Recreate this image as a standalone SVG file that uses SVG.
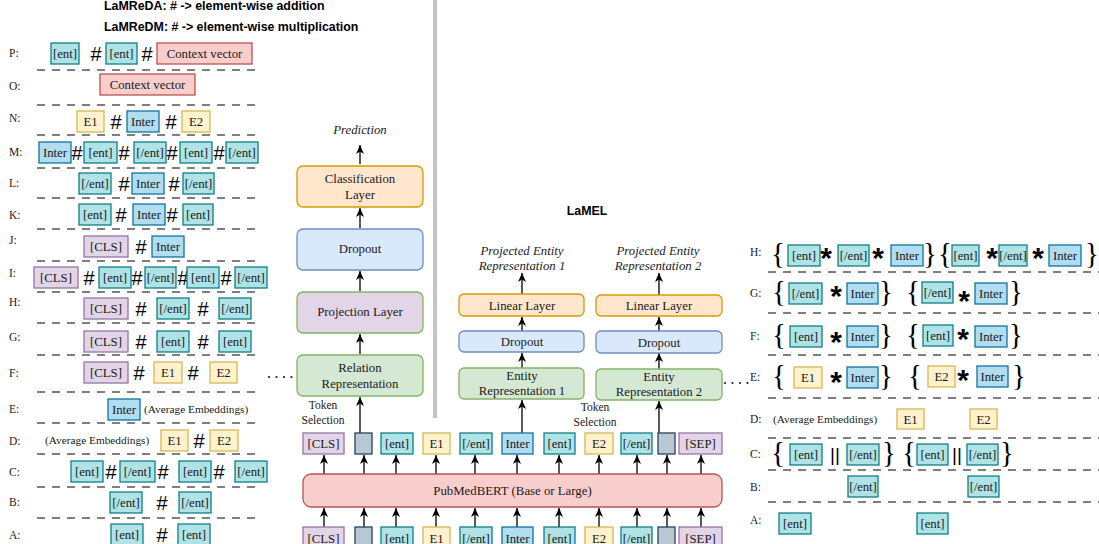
<svg xmlns="http://www.w3.org/2000/svg" width="1099" height="544" viewBox="0 0 1099 544">
<style>
rect{stroke-width:1.3}
.ent{fill:#b0e3e6;stroke:#0e8088}
.int{fill:#b1ddf0;stroke:#10739e}
.e{fill:#fff2cc;stroke:#d6b656}
.cls{fill:#e1d5e7;stroke:#9673a6}
.ctx{fill:#f8cecc;stroke:#b85450}
.gry{fill:#bac8d3;stroke:#23445d}
.org{fill:#ffe6cc;stroke:#d79b00}
.blu{fill:#dae8fc;stroke:#6c8ebf}
.pur{fill:#e1d5e7;stroke:#82b366}
.grn{fill:#d5e8d4;stroke:#82b366}
.t{font-family:"Liberation Serif",serif;font-size:12.8px;fill:#1a1a1a;text-anchor:middle}
.ti{font-family:"Liberation Serif",serif;font-size:12.8px;font-style:italic;fill:#1a1a1a;text-anchor:middle}
.s{font-family:"Liberation Serif",serif;font-size:11.5px;fill:#1a1a1a;text-anchor:middle}
.avg{font-family:"Liberation Serif",serif;font-size:11.3px;fill:#1a1a1a}
.h{font-family:"Liberation Sans",sans-serif;font-size:20px;fill:#000;text-anchor:middle}
.st{font-family:"Liberation Sans",sans-serif;font-size:30px;font-weight:bold;fill:#000;text-anchor:middle}
.br{font-family:"Liberation Serif",serif;font-size:29px;fill:#000;text-anchor:middle}
.bar{font-family:"Liberation Sans",sans-serif;font-size:19px;fill:#000;text-anchor:middle}
.lbl{font-family:"Liberation Serif",serif;font-size:11.5px;fill:#1a1a1a}
.hd{font-family:"Liberation Sans",sans-serif;font-size:12.4px;font-weight:bold;fill:#000}
.dash{stroke:#555;stroke-width:1.4;stroke-dasharray:8 7;fill:none}
.arr{stroke:#222;stroke-width:1.5;fill:none;marker-end:url(#ah)}
.dots{stroke:#222;stroke-width:2.2;stroke-linecap:round;stroke-dasharray:0 7.5;fill:none}
</style>
<defs>
<marker id="ah" markerUnits="userSpaceOnUse" markerWidth="10" markerHeight="10" refX="9" refY="4" orient="auto">
<path d="M0,0 L9,4 L0,8 L2.5,4 Z" fill="#000"/>
</marker>
</defs>
<rect width="1099" height="544" fill="#fff"/>
<rect x="433" y="0" width="4" height="418" fill="#c4c4c4"/>
<g id="header">
<text class="hd" x="104" y="10">LaMReDA: # -&gt; element-wise addition</text>
<text class="hd" x="104" y="31">LaMReDM: # -&gt; element-wise multiplication</text>
</g>
<g id="left-separators">
<line class="dash" x1="37" y1="70" x2="262" y2="70"/>
<line class="dash" x1="37" y1="105" x2="262" y2="105"/>
<line class="dash" x1="37" y1="135" x2="262" y2="135"/>
<line class="dash" x1="37" y1="168" x2="262" y2="168"/>
<line class="dash" x1="37" y1="198" x2="262" y2="198"/>
<line class="dash" x1="37" y1="229" x2="262" y2="229"/>
<line class="dash" x1="37" y1="261" x2="262" y2="261"/>
<line class="dash" x1="37" y1="292" x2="262" y2="292"/>
<line class="dash" x1="37" y1="323" x2="262" y2="323"/>
<line class="dash" x1="37" y1="355" x2="262" y2="355"/>
<line class="dash" x1="37" y1="392" x2="262" y2="392"/>
<line class="dash" x1="37" y1="423" x2="262" y2="423"/>
<line class="dash" x1="37" y1="454" x2="262" y2="454"/>
<line class="dash" x1="37" y1="487" x2="262" y2="487"/>
<line class="dash" x1="37" y1="518" x2="262" y2="518"/>
</g>
<g id="row-P">
<text class="lbl" x="9" y="57">P:</text>
<rect class="ent" x="51" y="43" width="28" height="21"/><text class="t" x="65" y="58">[ent]</text>
<text class="h" x="96" y="60.5">#</text>
<rect class="ent" x="106" y="43" width="31" height="21"/><text class="t" x="121.5" y="58">[ent]</text>
<text class="h" x="147" y="60.5">#</text>
<rect class="ctx" x="157" y="43" width="95" height="21"/><text class="t" x="204.5" y="58">Context vector</text>
</g>
<g id="row-O">
<text class="lbl" x="9" y="90">O:</text>
<rect class="ctx" x="100" y="74" width="95" height="21"/><text class="t" x="147.5" y="89">Context vector</text>
</g>
<g id="row-N">
<text class="lbl" x="9" y="122">N:</text>
<rect class="e" x="77" y="111" width="27" height="21"/><text class="t" x="90.5" y="126">E1</text>
<text class="h" x="116" y="128.5">#</text>
<rect class="int" x="127" y="111" width="32" height="21"/><text class="t" x="143" y="126">Inter</text>
<text class="h" x="171" y="128.5">#</text>
<rect class="e" x="182" y="111" width="28" height="21"/><text class="t" x="196" y="126">E2</text>
</g>
<g id="row-M">
<text class="lbl" x="9" y="156">M:</text>
<rect class="int" x="39" y="142" width="32" height="21"/><text class="t" x="55" y="157">Inter</text>
<text class="h" x="77" y="159.5">#</text>
<rect class="ent" x="84" y="142" width="33" height="21"/><text class="t" x="100.5" y="157">[ent]</text>
<text class="h" x="124" y="159.5">#</text>
<rect class="ent" x="134" y="142" width="32" height="21"/><text class="t" x="150" y="157">[/ent]</text>
<text class="h" x="172" y="159.5">#</text>
<rect class="ent" x="180" y="142" width="32" height="21"/><text class="t" x="196" y="157">[ent]</text>
<text class="h" x="219" y="159.5">#</text>
<rect class="ent" x="226" y="142" width="32" height="21"/><text class="t" x="242" y="157">[/ent]</text>
</g>
<g id="row-L">
<text class="lbl" x="9" y="187">L:</text>
<rect class="ent" x="79" y="173" width="32" height="21"/><text class="t" x="95" y="188">[/ent]</text>
<text class="h" x="124" y="190.5">#</text>
<rect class="int" x="132" y="173" width="32" height="21"/><text class="t" x="148" y="188">Inter</text>
<text class="h" x="174" y="190.5">#</text>
<rect class="ent" x="183" y="173" width="31" height="21"/><text class="t" x="198.5" y="188">[/ent]</text>
</g>
<g id="row-K">
<text class="lbl" x="9" y="219">K:</text>
<rect class="ent" x="79" y="204" width="32" height="21"/><text class="t" x="95" y="219">[ent]</text>
<text class="h" x="121" y="221.5">#</text>
<rect class="int" x="133" y="204" width="32" height="21"/><text class="t" x="149" y="219">Inter</text>
<text class="h" x="172" y="221.5">#</text>
<rect class="ent" x="183" y="204" width="30" height="21"/><text class="t" x="198" y="219">[ent]</text>
</g>
<g id="row-J">
<text class="lbl" x="9" y="244">J:</text>
<rect class="cls" x="84" y="236" width="44" height="21"/><text class="t" x="106" y="251">[CLS]</text>
<text class="h" x="141" y="253.5">#</text>
<rect class="int" x="152" y="236" width="32" height="21"/><text class="t" x="168" y="251">Inter</text>
</g>
<g id="row-I">
<text class="lbl" x="9" y="277">I:</text>
<rect class="cls" x="34" y="267" width="44" height="21"/><text class="t" x="56" y="282">[CLS]</text>
<text class="h" x="89" y="284.5">#</text>
<rect class="ent" x="99" y="267" width="32" height="21"/><text class="t" x="115" y="282">[ent]</text>
<text class="h" x="137" y="284.5">#</text>
<rect class="ent" x="145" y="267" width="31" height="21"/><text class="t" x="160.5" y="282">[/ent]</text>
<text class="h" x="183" y="284.5">#</text>
<rect class="ent" x="187" y="267" width="32" height="21"/><text class="t" x="203" y="282">[ent]</text>
<text class="h" x="226" y="284.5">#</text>
<rect class="ent" x="235" y="267" width="32" height="21"/><text class="t" x="251" y="282">[/ent]</text>
</g>
<g id="row-H">
<text class="lbl" x="9" y="306">H:</text>
<rect class="cls" x="84" y="298" width="44" height="21"/><text class="t" x="106" y="313">[CLS]</text>
<text class="h" x="141" y="315.5">#</text>
<rect class="ent" x="157" y="298" width="32" height="21"/><text class="t" x="173" y="313">[/ent]</text>
<text class="h" x="203" y="315.5">#</text>
<rect class="ent" x="219" y="298" width="32" height="21"/><text class="t" x="235" y="313">[/ent]</text>
</g>
<g id="row-G">
<text class="lbl" x="9" y="341">G:</text>
<rect class="cls" x="84" y="331" width="44" height="21"/><text class="t" x="106" y="346">[CLS]</text>
<text class="h" x="141" y="348.5">#</text>
<rect class="ent" x="157" y="331" width="32" height="21"/><text class="t" x="173" y="346">[ent]</text>
<text class="h" x="203" y="348.5">#</text>
<rect class="ent" x="219" y="331" width="32" height="21"/><text class="t" x="235" y="346">[ent]</text>
</g>
<g id="row-F">
<text class="lbl" x="9" y="377">F:</text>
<rect class="cls" x="84" y="362" width="44" height="21"/><text class="t" x="106" y="377">[CLS]</text>
<text class="h" x="139" y="379.5">#</text>
<rect class="e" x="154" y="362" width="28" height="21"/><text class="t" x="168" y="377">E1</text>
<text class="h" x="193" y="379.5">#</text>
<rect class="e" x="210" y="362" width="27" height="21"/><text class="t" x="223.5" y="377">E2</text>
</g>
<g id="row-E">
<text class="lbl" x="9" y="413">E:</text>
<rect class="int" x="108" y="399" width="32" height="21"/><text class="t" x="124" y="414">Inter</text>
<text class="avg" x="144" y="413">(Average Embeddings)</text>
</g>
<g id="row-D">
<text class="lbl" x="9" y="445">D:</text>
<text class="avg" x="45" y="444">(Average Embeddings)</text>
<rect class="e" x="161" y="430" width="27" height="21"/><text class="t" x="174.5" y="445">E1</text>
<text class="h" x="199" y="447.5">#</text>
<rect class="e" x="210" y="430" width="28" height="21"/><text class="t" x="224" y="445">E2</text>
</g>
<g id="row-C">
<text class="lbl" x="9" y="476">C:</text>
<rect class="ent" x="71" y="461" width="32" height="21"/><text class="t" x="87" y="476">[ent]</text>
<text class="h" x="111" y="478.5">#</text>
<rect class="ent" x="120" y="461" width="35" height="21"/><text class="t" x="137.5" y="476">[/ent]</text>
<text class="h" x="163" y="478.5">#</text>
<rect class="ent" x="179" y="461" width="32" height="21"/><text class="t" x="195" y="476">[ent]</text>
<text class="h" x="219" y="478.5">#</text>
<rect class="ent" x="235" y="461" width="32" height="21"/><text class="t" x="251" y="476">[/ent]</text>
</g>
<g id="row-B">
<text class="lbl" x="9" y="506">B:</text>
<rect class="ent" x="110" y="492" width="32" height="21"/><text class="t" x="126" y="507">[/ent]</text>
<text class="h" x="162" y="509.5">#</text>
<rect class="ent" x="179" y="492" width="32" height="21"/><text class="t" x="195" y="507">[/ent]</text>
</g>
<g id="row-A">
<text class="lbl" x="9" y="539">A:</text>
<rect class="ent" x="111" y="524" width="32" height="21"/><text class="t" x="127" y="539">[ent]</text>
<text class="h" x="162" y="541.5">#</text>
<rect class="ent" x="178" y="524" width="32" height="21"/><text class="t" x="194" y="539">[ent]</text>
</g>

<g id="connectors">
<line class="arr" x1="360" y1="164" x2="360" y2="145"/>
<line class="arr" x1="360" y1="228" x2="360" y2="208"/>
<line class="arr" x1="360" y1="291" x2="360" y2="271"/>
<line class="arr" x1="360" y1="354" x2="360" y2="334"/>
<line class="arr" x1="360" y1="433" x2="360" y2="397"/>
<line class="arr" x1="522" y1="294" x2="522" y2="273"/>
<line class="arr" x1="522" y1="331" x2="522" y2="317"/>
<line class="arr" x1="522" y1="368" x2="522" y2="353"/>
<line class="arr" x1="522" y1="433" x2="522" y2="400"/>
<line class="arr" x1="659" y1="295" x2="659" y2="273"/>
<line class="arr" x1="659" y1="331" x2="659" y2="317"/>
<line class="arr" x1="659" y1="369" x2="659" y2="353"/>
<line class="arr" x1="659" y1="433" x2="659" y2="401"/>
<line class="arr" x1="324" y1="474" x2="324" y2="455"/>
<line class="arr" x1="364" y1="474" x2="364" y2="455"/>
<line class="arr" x1="396" y1="474" x2="396" y2="455"/>
<line class="arr" x1="436" y1="474" x2="436" y2="455"/>
<line class="arr" x1="475" y1="474" x2="475" y2="455"/>
<line class="arr" x1="517" y1="474" x2="517" y2="455"/>
<line class="arr" x1="559" y1="474" x2="559" y2="455"/>
<line class="arr" x1="599" y1="474" x2="599" y2="455"/>
<line class="arr" x1="637" y1="474" x2="637" y2="455"/>
<line class="arr" x1="667" y1="474" x2="667" y2="455"/>
<line class="arr" x1="701" y1="474" x2="701" y2="455"/>
<line class="arr" x1="324" y1="527" x2="324" y2="508"/>
<line class="arr" x1="364" y1="527" x2="364" y2="508"/>
<line class="arr" x1="396" y1="527" x2="396" y2="508"/>
<line class="arr" x1="436" y1="527" x2="436" y2="508"/>
<line class="arr" x1="475" y1="527" x2="475" y2="508"/>
<line class="arr" x1="517" y1="527" x2="517" y2="508"/>
<line class="arr" x1="559" y1="527" x2="559" y2="508"/>
<line class="arr" x1="599" y1="527" x2="599" y2="508"/>
<line class="arr" x1="637" y1="527" x2="637" y2="508"/>
<line class="arr" x1="667" y1="527" x2="667" y2="508"/>
<line class="arr" x1="701" y1="527" x2="701" y2="508"/>
<line class="dots" x1="269" y1="377" x2="294" y2="377"/>
<line class="dots" x1="725" y1="383" x2="748" y2="383"/>
</g>

<g id="lamred-stack">
<text class="ti" x="360" y="134">Prediction</text>
<g id="classification-layer"><rect class="org" x="297" y="166" width="126" height="41" rx="6"/><text class="t" x="360" y="183">Classification</text><text class="t" x="360" y="199">Layer</text></g>
<g id="dropout-main"><rect class="blu" x="297" y="229" width="126" height="41" rx="6"/><text class="t" x="360" y="253">Dropout</text></g>
<g id="projection-layer"><rect class="pur" x="297" y="292" width="126" height="41" rx="6"/><text class="t" x="360" y="316">Projection Layer</text></g>
<g id="relation-representation"><rect class="grn" x="297" y="355" width="126" height="41" rx="6"/><text class="t" x="360" y="372">Relation</text><text class="t" x="360" y="388">Representation</text></g>
<text class="s" x="323" y="409">Token</text>
<text class="s" x="323" y="424">Selection</text>
</g>

<g id="lamel">
<text class="hd" x="587" y="215" text-anchor="middle">LaMEL</text>
<text class="ti" x="522" y="255">Projected Entity</text>
<text class="ti" x="522" y="270">Representation 1</text>
<text class="ti" x="658" y="255">Projected Entity</text>
<text class="ti" x="658" y="270">Representation 2</text>
<g id="linear-layer-1"><rect class="org" x="459" y="294" width="125" height="22" rx="5"/><text class="t" x="522" y="309.5">Linear Layer</text></g>
<g id="dropout-1"><rect class="blu" x="459" y="331" width="125" height="21" rx="5"/><text class="t" x="522" y="346">Dropout</text></g>
<g id="entity-rep-1"><rect class="grn" x="459" y="368" width="125" height="31" rx="5"/><text class="t" x="522" y="380">Entity</text><text class="t" x="522" y="395">Representation 1</text></g>
<g id="linear-layer-2"><rect class="org" x="596" y="295" width="126" height="21" rx="5"/><text class="t" x="659" y="310">Linear Layer</text></g>
<g id="dropout-2"><rect class="blu" x="596" y="331" width="126" height="22" rx="5"/><text class="t" x="659" y="346.5">Dropout</text></g>
<g id="entity-rep-2"><rect class="grn" x="596" y="369" width="126" height="31" rx="5"/><text class="t" x="659" y="381">Entity</text><text class="t" x="659" y="396">Representation 2</text></g>
<text class="s" x="595" y="411">Token</text>
<text class="s" x="595" y="426">Selection</text>
</g>

<g id="output-tokens">
<rect class="cls" x="303" y="433" width="41" height="21"/><text class="t" x="323.5" y="448">[CLS]</text>
<rect class="gry" x="355" y="433" width="17" height="21"/>
<rect class="ent" x="381" y="433" width="32" height="21"/><text class="t" x="397" y="448">[ent]</text>
<rect class="e" x="423" y="433" width="27" height="21"/><text class="t" x="436.5" y="448">E1</text>
<rect class="ent" x="460" y="433" width="32" height="21"/><text class="t" x="476" y="448">[/ent]</text>
<rect class="int" x="502" y="433" width="31" height="21"/><text class="t" x="517.5" y="448">Inter</text>
<rect class="ent" x="544" y="433" width="31" height="21"/><text class="t" x="559.5" y="448">[ent]</text>
<rect class="e" x="585" y="433" width="28" height="21"/><text class="t" x="599" y="448">E2</text>
<rect class="ent" x="621" y="433" width="31" height="21"/><text class="t" x="636.5" y="448">[/ent]</text>
<rect class="gry" x="658" y="433" width="17" height="21"/>
<rect class="cls" x="679" y="433" width="43" height="21"/><text class="t" x="700.5" y="448">[SEP]</text>
</g>
<g id="pubmedbert">
<rect class="ctx" x="303" y="474" width="419" height="33" rx="8"/>
<text class="t" x="512.5" y="495">PubMedBERT (Base or Large)</text>
</g>
<g id="input-tokens">
<rect class="cls" x="303" y="527" width="41" height="22"/><text class="t" x="323.5" y="542.5">[CLS]</text>
<rect class="gry" x="355" y="527" width="17" height="22"/>
<rect class="ent" x="381" y="527" width="32" height="22"/><text class="t" x="397" y="542.5">[ent]</text>
<rect class="e" x="423" y="527" width="27" height="22"/><text class="t" x="436.5" y="542.5">E1</text>
<rect class="ent" x="460" y="527" width="32" height="22"/><text class="t" x="476" y="542.5">[/ent]</text>
<rect class="int" x="502" y="527" width="31" height="22"/><text class="t" x="517.5" y="542.5">Inter</text>
<rect class="ent" x="544" y="527" width="31" height="22"/><text class="t" x="559.5" y="542.5">[ent]</text>
<rect class="e" x="585" y="527" width="28" height="22"/><text class="t" x="599" y="542.5">E2</text>
<rect class="ent" x="621" y="527" width="31" height="22"/><text class="t" x="636.5" y="542.5">[/ent]</text>
<rect class="gry" x="658" y="527" width="17" height="22"/>
<rect class="cls" x="679" y="527" width="43" height="22"/><text class="t" x="700.5" y="542.5">[SEP]</text>
</g>

<g id="right-separators">
<line class="dash" x1="768" y1="272" x2="1099" y2="272"/>
<line class="dash" x1="768" y1="313" x2="1099" y2="313"/>
<line class="dash" x1="768" y1="355" x2="1099" y2="355"/>
<line class="dash" x1="768" y1="398" x2="1099" y2="398"/>
<line class="dash" x1="768" y1="438" x2="1099" y2="438"/>
<line class="dash" x1="768" y1="470" x2="1099" y2="470"/>
<line class="dash" x1="768" y1="502" x2="1099" y2="502"/>
</g>
<g id="rrow-H">
<text class="lbl" x="750" y="256">H:</text>
<text class="br" x="778" y="263">{</text>
<rect class="ent" x="788" y="245" width="32" height="21"/><text class="t" x="804" y="260">[ent]</text>
<text class="st" x="826" y="268">*</text>
<rect class="ent" x="838" y="245" width="31" height="21"/><text class="t" x="853.5" y="260">[/ent]</text>
<text class="st" x="878" y="268">*</text>
<rect class="int" x="891" y="245" width="32" height="21"/><text class="t" x="907" y="260">Inter</text>
<text class="br" x="930" y="263">}</text>
<text class="br" x="945" y="263">{</text>
<rect class="ent" x="952" y="245" width="27" height="21"/><text class="t" x="965.5" y="260">[ent]</text>
<text class="st" x="992" y="268">*</text>
<rect class="ent" x="999" y="245" width="28" height="21"/><text class="t" x="1013" y="260">[/ent]</text>
<text class="st" x="1038" y="268">*</text>
<rect class="int" x="1049" y="245" width="32" height="21"/><text class="t" x="1065" y="260">Inter</text>
<text class="br" x="1092" y="263">}</text>
</g>
<g id="rrow-G">
<text class="lbl" x="750" y="297">G:</text>
<text class="br" x="779" y="301">{</text>
<rect class="ent" x="789" y="283" width="33" height="21"/><text class="t" x="805.5" y="298">[/ent]</text>
<text class="st" x="836" y="306">*</text>
<rect class="int" x="847" y="283" width="31" height="21"/><text class="t" x="862.5" y="298">Inter</text>
<text class="br" x="886" y="301">}</text>
<text class="br" x="913" y="301">{</text>
<rect class="ent" x="922" y="282" width="31" height="21"/><text class="t" x="937.5" y="297">[/ent]</text>
<text class="st" x="964" y="311">*</text>
<rect class="int" x="975" y="283" width="32" height="21"/><text class="t" x="991" y="298">Inter</text>
<text class="br" x="1016" y="301">}</text>
</g>
<g id="rrow-F">
<text class="lbl" x="750" y="340">F:</text>
<text class="br" x="779" y="344">{</text>
<rect class="ent" x="790" y="326" width="32" height="21"/><text class="t" x="806" y="341">[ent]</text>
<text class="st" x="836" y="352">*</text>
<rect class="int" x="847" y="326" width="31" height="21"/><text class="t" x="862.5" y="341">Inter</text>
<text class="br" x="886" y="344">}</text>
<text class="br" x="913" y="344">{</text>
<rect class="ent" x="923" y="325" width="30" height="21"/><text class="t" x="938" y="340">[ent]</text>
<text class="st" x="963" y="349">*</text>
<rect class="int" x="975" y="326" width="32" height="21"/><text class="t" x="991" y="341">Inter</text>
<text class="br" x="1016" y="344">}</text>
</g>
<g id="rrow-E">
<text class="lbl" x="750" y="381">E:</text>
<text class="br" x="779" y="385">{</text>
<rect class="e" x="794" y="367" width="28" height="21"/><text class="t" x="808" y="382">E1</text>
<text class="st" x="836" y="392">*</text>
<rect class="int" x="847" y="367" width="31" height="21"/><text class="t" x="862.5" y="382">Inter</text>
<text class="br" x="886" y="385">}</text>
<text class="br" x="915" y="385">{</text>
<rect class="e" x="928" y="366" width="27" height="21"/><text class="t" x="941.5" y="381">E2</text>
<text class="st" x="963" y="390">*</text>
<rect class="int" x="977" y="366" width="31" height="21"/><text class="t" x="992.5" y="381">Inter</text>
<text class="br" x="1019" y="385">}</text>
</g>
<g id="rrow-D">
<text class="lbl" x="750" y="423">D:</text>
<text class="avg" x="773" y="423">(Average Embeddings)</text>
<rect class="e" x="897" y="409" width="27" height="20"/><text class="t" x="910.5" y="423.5">E1</text>
<rect class="e" x="970" y="409" width="27" height="20"/><text class="t" x="983.5" y="423.5">E2</text>
</g>
<g id="rrow-C">
<text class="lbl" x="750" y="458">C:</text>
<text class="br" x="778" y="462">{</text>
<rect class="ent" x="790" y="444" width="32" height="21"/><text class="t" x="806" y="459">[ent]</text>
<text class="bar" x="835" y="461">||</text>
<rect class="ent" x="847" y="444" width="32" height="21"/><text class="t" x="863" y="459">[/ent]</text>
<text class="br" x="889" y="462">}</text>
<text class="br" x="909" y="462">{</text>
<rect class="ent" x="917" y="444" width="31" height="21"/><text class="t" x="932.5" y="459">[ent]</text>
<text class="bar" x="957" y="461">||</text>
<rect class="ent" x="967" y="444" width="31" height="21"/><text class="t" x="982.5" y="459">[/ent]</text>
<text class="br" x="1007" y="462">}</text>
</g>
<g id="rrow-B">
<text class="lbl" x="750" y="491">B:</text>
<rect class="ent" x="848" y="476" width="30" height="21"/><text class="t" x="863" y="491">[/ent]</text>
<rect class="ent" x="968" y="476" width="31" height="21"/><text class="t" x="983.5" y="491">[/ent]</text>
</g>
<g id="rrow-A">
<text class="lbl" x="750" y="524">A:</text>
<rect class="ent" x="779" y="513" width="32" height="21"/><text class="t" x="795" y="528">[ent]</text>
<rect class="ent" x="917" y="513" width="31" height="21"/><text class="t" x="932.5" y="528">[ent]</text>
</g>
</svg>
